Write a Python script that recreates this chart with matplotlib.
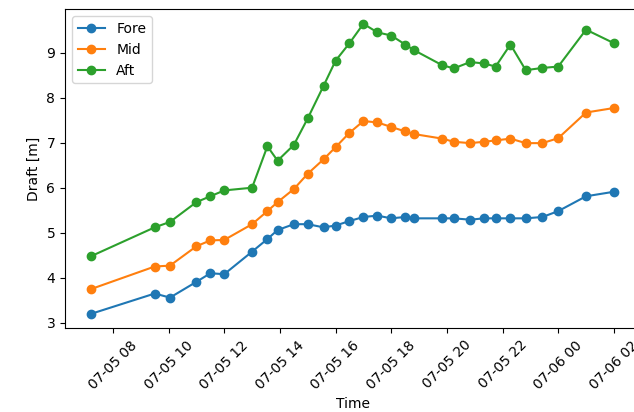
import matplotlib
matplotlib.use("Agg")
import matplotlib.pyplot as plt
import matplotlib.dates as mdates
import pandas as pd

# draft readings over the port call
times = ["2021-07-05 07:13", "2021-07-05 09:30", "2021-07-05 10:03", "2021-07-05 11:00",
         "2021-07-05 11:30", "2021-07-05 12:00", "2021-07-05 13:00", "2021-07-05 13:33",
         "2021-07-05 13:55", "2021-07-05 14:30", "2021-07-05 15:00", "2021-07-05 15:34",
         "2021-07-05 16:00", "2021-07-05 16:30", "2021-07-05 17:00", "2021-07-05 17:30",
         "2021-07-05 18:00", "2021-07-05 18:30", "2021-07-05 18:50", "2021-07-05 19:50",
         "2021-07-05 20:15", "2021-07-05 20:50", "2021-07-05 21:20", "2021-07-05 21:45",
         "2021-07-05 22:17", "2021-07-05 22:50", "2021-07-05 23:26", "2021-07-06 00:00",
         "2021-07-06 01:00", "2021-07-06 02:00"]

fore = [3.20, 3.65, 3.56, 3.91, 4.10, 4.08, 4.58, 4.86, 5.06, 5.19,
        5.19, 5.12, 5.16, 5.26, 5.35, 5.38, 5.32, 5.35, 5.32, 5.32,
        5.32, 5.29, 5.32, 5.32, 5.32, 5.32, 5.35, 5.48, 5.81, 5.91]

mid = [3.75, 4.25, 4.27, 4.70, 4.83, 4.84, 5.19, 5.48, 5.68, 5.97,
       6.31, 6.63, 6.90, 7.22, 7.48, 7.45, 7.35, 7.25, 7.19, 7.09,
       7.02, 6.99, 7.02, 7.05, 7.09, 6.99, 6.99, 7.10, 7.67, 7.77]

aft = [4.48, 5.12, 5.24, 5.68, 5.81, 5.94, 6.00, 6.92, 6.60, 6.95,
       7.54, 8.26, 8.82, 9.21, 9.64, 9.45, 9.38, 9.18, 9.05, 8.72,
       8.65, 8.79, 8.76, 8.69, 9.18, 8.61, 8.66, 8.69, 9.51, 9.21]

t = pd.to_datetime(times)

fig = plt.figure(figsize=(6.34, 4.12), dpi=100)
W, H = 634, 412
ax = fig.add_axes([65 / W, (H - 328.3) / H, (640 - 65) / W, (328.3 - 9.3) / H])

ax.plot(t, fore, marker="o", label="Fore")
ax.plot(t, mid, marker="o", label="Mid")
ax.plot(t, aft, marker="o", label="Aft")

ax.xaxis.set_major_locator(mdates.HourLocator(byhour=range(0, 24, 2)))
ax.xaxis.set_major_formatter(mdates.DateFormatter("%m-%d %H"))
plt.setp(ax.get_xticklabels(), rotation=45)

ax.set_xlabel("Time")
ax.set_ylabel("Draft [m]")
ax.legend(loc="upper left")

fig.savefig("out.png", dpi=100)
